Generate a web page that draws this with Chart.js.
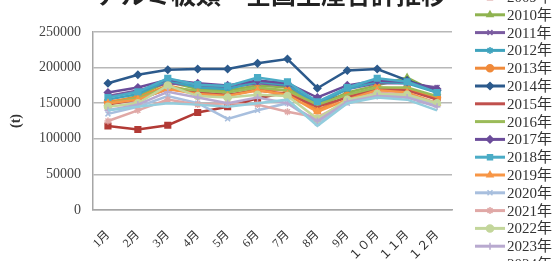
<!DOCTYPE html>
<html>
<head>
<meta charset="utf-8">
<script src="https://cdn.jsdelivr.net/npm/chart.js@4/dist/chart.umd.min.js"></script>
<style>
  html, body { margin: 0; padding: 0; background: #fff; }
  canvas { display: block; filter: blur(0.35px); }
</style>
</head>
<body>
<canvas id="chart" width="557" height="261"></canvas>
<script>
const chartTitle = 'アルミ板類　全国生産合計推移';
const months = ['1月', '2月', '3月', '4月', '5月', '6月', '7月', '8月', '9月', '１０月', '１１月', '１２月'];
const years = ['2009年', '2010年', '2011年', '2012年', '2013年', '2014年', '2015年', '2016年',
               '2017年', '2018年', '2019年', '2020年', '2021年', '2022年', '2023年', '2024年'];
const yTicks = [0, 50000, 100000, 150000, 200000, 250000];

const v2009 = [118000, 113000, 119000, 137000, 145000, 157000, 165000, 150000, 163000, 168000, 170000, 158000];
const v2010 = [150000, 160000, 180000, 170000, 168000, 175000, 172000, 145000, 165000, 175000, 186000, 165000];
const v2011 = [160000, 168000, 178000, 175000, 172000, 178000, 175000, 150000, 170000, 178000, 178000, 172000];
const v2012 = [155000, 163000, 182000, 172000, 170000, 180000, 176000, 148000, 170000, 180000, 178000, 165000];
const v2013 = [152000, 158000, 175000, 165000, 160000, 170000, 168000, 140000, 160000, 172000, 170000, 158000];
const v2014 = [178000, 190000, 197000, 198000, 198000, 206000, 212000, 171000, 196000, 198000, 182000, 168000];
const v2015 = [148000, 155000, 170000, 165000, 162000, 168000, 163000, 145000, 158000, 170000, 168000, 155000];
const v2016 = [150000, 157000, 172000, 168000, 165000, 172000, 168000, 148000, 162000, 172000, 172000, 160000];
const v2017 = [165000, 172000, 183000, 178000, 175000, 182000, 178000, 158000, 175000, 182000, 180000, 170000];
const v2018 = [158000, 166000, 185000, 176000, 174000, 186000, 180000, 152000, 172000, 185000, 180000, 165000];
const v2019 = [150000, 155000, 170000, 163000, 160000, 168000, 162000, 138000, 155000, 168000, 165000, 150000];
const v2020 = [135000, 145000, 160000, 150000, 128000, 140000, 150000, 122000, 150000, 160000, 160000, 148000];
const v2021 = [125000, 140000, 155000, 148000, 150000, 148000, 138000, 130000, 152000, 165000, 162000, 150000];
const v2022 = [145000, 150000, 175000, 160000, 158000, 162000, 160000, 128000, 155000, 163000, 162000, 150000];
const v2023 = [140000, 148000, 166000, 158000, 150000, 158000, 150000, 125000, 152000, 160000, 158000, 145000];
const v2024 = [140000, 145000, 150000, 148000, 145000, 150000, 155000, 118000, 150000, 158000, 155000, 140000];

const seriesValues = [v2009, v2010, v2011, v2012, v2013, v2014, v2015, v2016,
                      v2017, v2018, v2019, v2020, v2021, v2022, v2023, v2024];
const seriesColors = ['#B23A35', '#8FB350', '#7A5BA0', '#3FA3BD', '#F08A3A', '#2C5A8C', '#C0504D', '#9BBB59',
                      '#6B4C9A', '#4BACC6', '#F79646', '#A8BFDE', '#E0A8A6', '#C3D69B', '#B8A9CF', '#93CDDD'];
const seriesMarkers = ['rect', 'triangle', 'crossRot', 'star', 'circle', 'rectRot', false, false,
                       'rectRot', 'rect', 'triangle', 'crossRot', 'star', 'circle', 'cross', false];

const serif = "'Liberation Serif', 'DejaVu Serif', 'Noto Sans CJK JP', serif";

const datasets = years.map((y, i) => ({
    label: y,
    data: seriesValues[i],
    borderColor: seriesColors[i],
    backgroundColor: seriesColors[i],
    borderWidth: 2.5,
    pointStyle: seriesMarkers[i] || 'circle',
    pointRadius: seriesMarkers[i] ? (i === 9 || i === 0 ? 4 : 3.5) : 0,
    pointBorderWidth: 1.5,
    tension: 0,
    order: 15 - i
}));

// title, cut off at the top like the picture
const titlePlugin = {
    id: 'cutTitle',
    afterDraw(chart) {
        const ctx = chart.ctx;
        ctx.save();
        ctx.font = "bold 25px 'Noto Sans CJK JP', sans-serif";
        ctx.fillStyle = '#222';
        ctx.textAlign = 'left';
        ctx.textBaseline = 'alphabetic';
        ctx.fillText(chartTitle, 96, 4);
        ctx.restore();
    }
};

// legend column on the right
const sideLegend = {
    id: 'sideLegend',
    afterDraw(chart) {
        const ctx = chart.ctx;
        ctx.save();
        chart.data.datasets.forEach((ds, i) => {
            const y = -3 + i * 17.8;
            ctx.strokeStyle = ds.borderColor;
            ctx.lineWidth = 3;
            ctx.beginPath();
            ctx.moveTo(475, y);
            ctx.lineTo(505, y);
            ctx.stroke();
            if (seriesMarkers[i]) {
                ctx.fillStyle = ds.borderColor;
                ctx.lineWidth = 1.5;
                Chart.helpers.drawPoint(ctx, { pointStyle: seriesMarkers[i], radius: 3.5, rotation: 0, borderWidth: 1.5 }, 490, y);
            }
            ctx.fillStyle = '#333';
            ctx.font = '15px ' + serif;
            ctx.textAlign = 'left';
            ctx.textBaseline = 'middle';
            ctx.fillText(ds.label, 507, y + 1);
        });
        ctx.restore();
    }
};

new Chart(document.getElementById('chart'), {
    type: 'line',
    data: { labels: months, datasets },
    plugins: [titlePlugin, sideLegend],
    options: {
        responsive: false,
        animation: false,
        layout: { padding: { left: 0, top: 32, right: 105, bottom: 0 } },
        plugins: {
            legend: { display: false },
            tooltip: { enabled: false }
        },
        scales: {
            x: {
                offset: true,
                grid: { display: false },
                border: { display: true, color: '#A6A6A6', width: 1.5 },
                ticks: {
                    autoSkip: false,
                    minRotation: 45,
                    maxRotation: 45,
                    padding: 10,
                    color: '#333',
                    font: { family: serif, size: 12 }
                },
                afterFit(scale) { scale.height = 51; }
            },
            y: {
                min: 0,
                max: 250000,
                afterBuildTicks(scale) { scale.ticks = yTicks.map(v => ({ value: v })); },
                grid: { color: '#B8B8B8', lineWidth: 1.5, drawTicks: false },
                border: { display: true, color: '#A6A6A6', width: 1.5 },
                ticks: {
                    padding: 12,
                    color: '#444',
                    font: { family: serif, size: 14 },
                    callback: v => String(v)
                },
                title: {
                    display: true,
                    text: '(t)',
                    color: '#333',
                    padding: { top: 8, bottom: 0 },
                    font: { family: serif, size: 14, weight: 'bold' }
                },
                afterFit(scale) { scale.width = 93; }
            }
        }
    }
});
</script>
</body>
</html>
